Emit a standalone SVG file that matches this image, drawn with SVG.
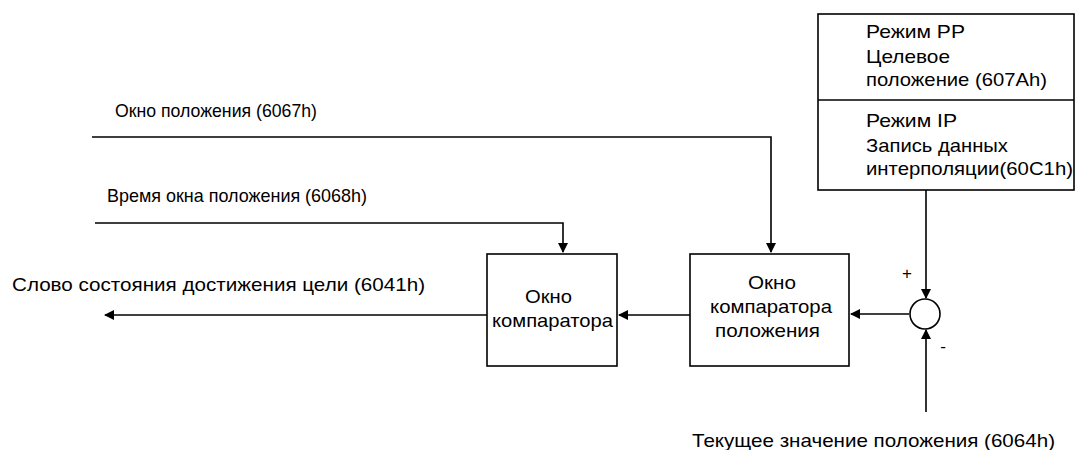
<svg xmlns="http://www.w3.org/2000/svg" width="1075" height="450" viewBox="0 0 1075 450">
<style>
text{font-family:"Liberation Sans",Arial,sans-serif;font-size:18.5px;fill:#000}
.b{fill:#fff;stroke:#000;stroke-width:1.6}
.l{fill:none;stroke:#000;stroke-width:1.6}
.s{font-size:17px}
</style>
<defs>
<marker id="a" markerWidth="10" markerHeight="10" refX="9" refY="5" orient="auto" markerUnits="userSpaceOnUse"><path d="M0,0 L10,5 L0,10 Z" fill="#000"/></marker>
</defs>
<g id="conn">
<path class="l" d="M92,137 H771 V252" marker-end="url(#a)"/>
<path class="l" d="M95,223 H563 V252" marker-end="url(#a)"/>
<path class="l" d="M926,190 V298" marker-end="url(#a)"/>
<path class="l" d="M926,412 V330" marker-end="url(#a)"/>
<path class="l" d="M909,314 H851" marker-end="url(#a)"/>
<path class="l" d="M690,315 H619" marker-end="url(#a)"/>
<path class="l" d="M487,315 H105" marker-end="url(#a)"/>
</g>
<g id="setpoint">
<rect class="b" x="818" y="14" width="256" height="176"/>
<line class="l" x1="818" y1="100" x2="1074" y2="100"/>
<text x="866" y="38" textLength="99" lengthAdjust="spacingAndGlyphs">Режим PP</text>
<text x="866" y="63" textLength="84" lengthAdjust="spacingAndGlyphs">Целевое</text>
<text x="866" y="86" textLength="181" lengthAdjust="spacingAndGlyphs">положение (607Ah)</text>
<text x="866" y="127" textLength="91" lengthAdjust="spacingAndGlyphs">Режим IP</text>
<text x="866" y="152" textLength="142" lengthAdjust="spacingAndGlyphs">Запись данных</text>
<text x="866" y="175" textLength="207" lengthAdjust="spacingAndGlyphs">интерполяции(60C1h)</text>
</g>
<g id="sum">
<circle class="b" cx="925" cy="314" r="15"/>
<text x="907" y="279" text-anchor="middle" class="s">+</text>
<text x="943" y="352" text-anchor="middle" class="s">-</text>
</g>
<g id="poscomp">
<rect class="b" x="690" y="254" width="159" height="112"/>
<text x="748" y="289" textLength="48" lengthAdjust="spacingAndGlyphs">Окно</text>
<text x="710" y="313" textLength="122" lengthAdjust="spacingAndGlyphs">компаратора</text>
<text x="715" y="337" textLength="105" lengthAdjust="spacingAndGlyphs">положения</text>
</g>
<g id="wincomp">
<rect class="b" x="487" y="254" width="130" height="112"/>
<text x="525" y="303" textLength="47" lengthAdjust="spacingAndGlyphs">Окно</text>
<text x="492" y="327" textLength="121" lengthAdjust="spacingAndGlyphs">компаратора</text>
</g>
<g id="labels">
<text x="115" y="117" textLength="202" lengthAdjust="spacingAndGlyphs">Окно положения (6067h)</text>
<text x="107" y="202" textLength="260" lengthAdjust="spacingAndGlyphs">Время окна положения (6068h)</text>
<text x="12" y="291" textLength="413" lengthAdjust="spacingAndGlyphs">Слово состояния достижения цели (6041h)</text>
<text x="692" y="447" textLength="363" lengthAdjust="spacingAndGlyphs">Текущее значение положения (6064h)</text>
</g>
</svg>
